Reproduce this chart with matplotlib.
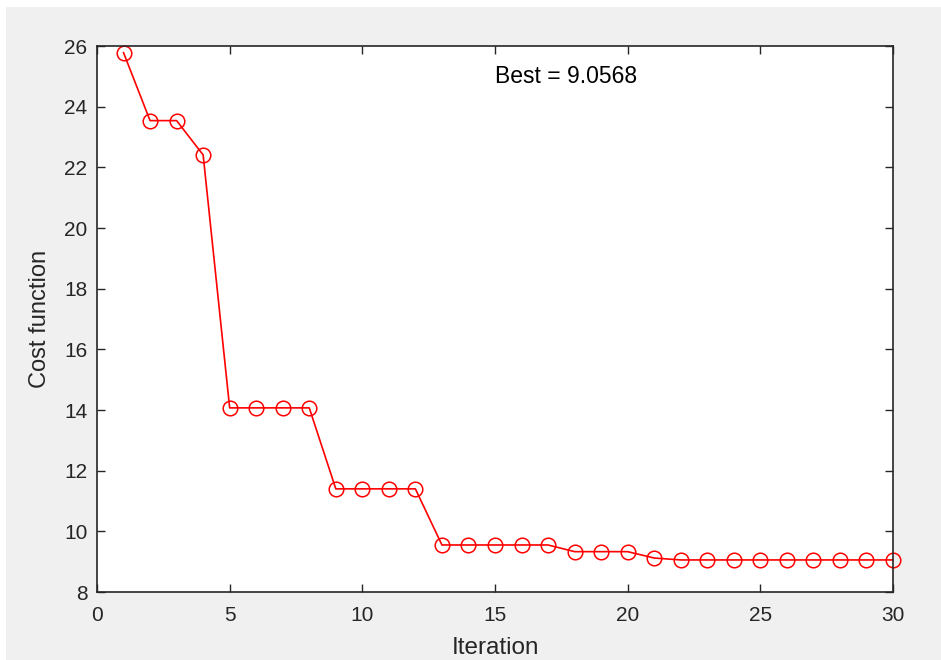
import matplotlib
matplotlib.use("Agg")
import matplotlib.pyplot as plt
from matplotlib.patches import Rectangle

iterations = list(range(1, 31))
cost = [25.78, 23.54, 23.54, 22.41, 14.07, 14.07, 14.07, 14.07,
        11.40, 11.40, 11.40, 11.40,
        9.55, 9.55, 9.55, 9.55, 9.55,
        9.33, 9.33, 9.33,
        9.12,
        9.0568, 9.0568, 9.0568, 9.0568, 9.0568, 9.0568, 9.0568, 9.0568, 9.0568]
best_label = "Best = 9.0568"
xticks = [0, 5, 10, 15, 20, 25, 30]
yticks = [8, 10, 12, 14, 16, 18, 20, 22, 24, 26]

plt.rcParams['font.family'] = ['Liberation Sans', 'DejaVu Sans']
W, H = 941, 660
fig = plt.figure(figsize=(W / 100, H / 100), dpi=100, facecolor='#f0f0f0')
# thin white margin at top and left
fig.patches.append(Rectangle((0, 0), 6 / W, 1, transform=fig.transFigure,
                             facecolor='white', edgecolor='none', zorder=-10))
fig.patches.append(Rectangle((0, 1 - 7 / H), 1, 7 / H, transform=fig.transFigure,
                             facecolor='white', edgecolor='none', zorder=-10))

ax = fig.add_axes([97 / W, 1 - 592 / H, (893 - 97) / W, (592 - 46) / H])
ax.set_facecolor('white')
ax.plot(iterations, cost, color='red', linewidth=1.2, marker='o', markersize=10.5,
        markerfacecolor='none', markeredgecolor='red', markeredgewidth=1.1, clip_on=False)
ax.set_xlim(0, 30)
ax.set_ylim(8, 26)
ax.set_xticks(xticks)
ax.set_yticks(yticks)
c = '#262626'
for s in ax.spines.values():
    s.set_color(c)
    s.set_linewidth(1.2)
ax.tick_params(direction='in', top=True, right=True, length=6, width=1.0, colors=c,
               labelsize=15, labelcolor=c)
ax.tick_params(axis='x', pad=10)
ax.tick_params(axis='y', pad=7)
ax.set_xlabel('Iteration', fontsize=17.5, color=c, labelpad=9)
ax.set_ylabel('Cost function', fontsize=17, color=c, labelpad=9)
ax.text(15, 25.0, best_label, fontsize=16.5, color='black', ha='left', va='center')

fig.savefig('out.png', dpi=100, facecolor=fig.get_facecolor())
